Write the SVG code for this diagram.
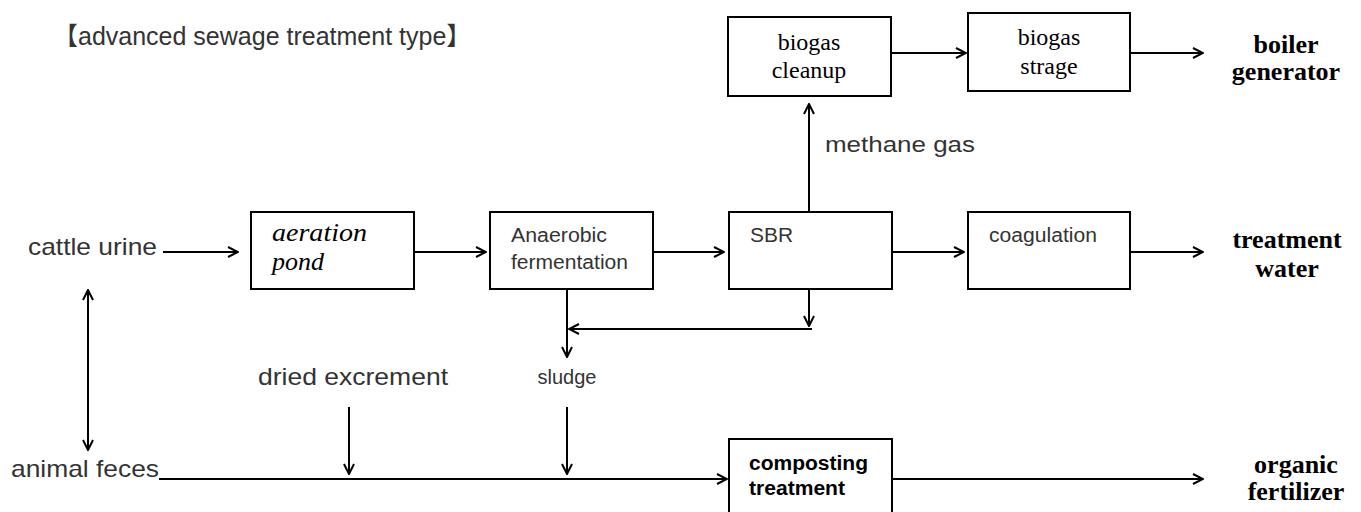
<svg xmlns="http://www.w3.org/2000/svg" width="1361" height="512" viewBox="0 0 1361 512">
  <style>
    .box { fill: #ffffff; stroke: #000000; stroke-width: 2; }
    .line { fill: none; stroke: #000000; stroke-width: 2; }
    .sans { font-family: "Liberation Sans", Arial, "Noto Sans CJK JP", sans-serif; fill: #333333; }
    .lbl { font-size: 24px; }
    .small { font-size: 20px; }
    .serif { font-family: "Liberation Serif", "Times New Roman", serif; fill: #000000; font-size: 24px; text-anchor: middle; }
    .ital { font-family: "Liberation Serif", "Times New Roman", serif; font-style: italic; fill: #000000; font-size: 26px; }
    .out { font-family: "Liberation Serif", "Times New Roman", serif; font-weight: bold; fill: #000000; font-size: 26px; text-anchor: middle; }
    .bold { font-family: "Liberation Sans", Arial, sans-serif; font-weight: bold; fill: #000000; font-size: 20px; }
  </style>
  <defs>
    <marker id="arrow" viewBox="0 0 12 12" refX="11" refY="6" markerWidth="12" markerHeight="12" markerUnits="userSpaceOnUse" orient="auto-start-reverse">
      <path d="M1,1 L11,6 L1,11" fill="none" stroke="#000000" stroke-width="2"/>
    </marker>
  </defs>

  <rect width="1361" height="512" fill="#ffffff"/>

  <text class="sans" x="53" y="45" font-size="25">【advanced sewage treatment type】</text>

  <!-- connectors -->
  <g id="connectors">
    <path class="line" d="M163,252 H238" marker-end="url(#arrow)"/>
    <path class="line" d="M414,252 H486" marker-end="url(#arrow)"/>
    <path class="line" d="M653,252 H724" marker-end="url(#arrow)"/>
    <path class="line" d="M892,252 H964" marker-end="url(#arrow)"/>
    <path class="line" d="M1130,252 H1203" marker-end="url(#arrow)"/>
    <path class="line" d="M809,212 V104" marker-end="url(#arrow)"/>
    <path class="line" d="M891,53 H966" marker-end="url(#arrow)"/>
    <path class="line" d="M1130,53 H1203" marker-end="url(#arrow)"/>
    <path class="line" d="M809,289 V326" marker-end="url(#arrow)"/>
    <path class="line" d="M812,329 H569" marker-end="url(#arrow)"/>
    <path class="line" d="M567,289 V357" marker-end="url(#arrow)"/>
    <path class="line" d="M567,407 V474" marker-end="url(#arrow)"/>
    <path class="line" d="M349,407 V474" marker-end="url(#arrow)"/>
    <path class="line" d="M88,290 V450" marker-start="url(#arrow)" marker-end="url(#arrow)"/>
    <path class="line" d="M159,479 H727" marker-end="url(#arrow)"/>
    <path class="line" d="M892,479 H1203" marker-end="url(#arrow)"/>
  </g>

  <!-- process boxes -->
  <g id="aeration-pond">
    <rect class="box" x="251" y="212" width="163" height="77"/>
    <text class="ital" x="272" y="241" textLength="95" lengthAdjust="spacingAndGlyphs">aeration</text>
    <text class="ital" x="272" y="270">pond</text>
  </g>
  <g id="anaerobic-fermentation">
    <rect class="box" x="490" y="212" width="163" height="77"/>
    <text class="sans small" x="511" y="242" textLength="96" lengthAdjust="spacingAndGlyphs">Anaerobic</text>
    <text class="sans small" x="511" y="269" textLength="117" lengthAdjust="spacingAndGlyphs">fermentation</text>
  </g>
  <g id="sbr">
    <rect class="box" x="729" y="212" width="163" height="77"/>
    <text class="sans small" x="750" y="242" textLength="43" lengthAdjust="spacingAndGlyphs">SBR</text>
  </g>
  <g id="coagulation">
    <rect class="box" x="968" y="212" width="162" height="77"/>
    <text class="sans small" x="989" y="242" textLength="108" lengthAdjust="spacingAndGlyphs">coagulation</text>
  </g>
  <g id="biogas-cleanup">
    <rect class="box" x="728" y="17" width="163" height="79"/>
    <text class="serif" x="809" y="50">biogas</text>
    <text class="serif" x="809" y="78">cleanup</text>
  </g>
  <g id="biogas-strage">
    <rect class="box" x="968" y="13" width="162" height="78"/>
    <text class="serif" x="1049" y="45">biogas</text>
    <text class="serif" x="1049" y="74">strage</text>
  </g>
  <g id="composting-treatment">
    <rect class="box" x="729" y="439" width="163" height="80"/>
    <text class="bold" x="749" y="470" textLength="119" lengthAdjust="spacingAndGlyphs">composting</text>
    <text class="bold" x="749" y="495" textLength="96" lengthAdjust="spacingAndGlyphs">treatment</text>
  </g>

  <!-- inputs and intermediate labels -->
  <g id="cattle-urine"><text class="sans lbl" x="28" y="255" textLength="129" lengthAdjust="spacingAndGlyphs">cattle urine</text></g>
  <g id="animal-feces"><text class="sans lbl" x="11" y="477" textLength="148" lengthAdjust="spacingAndGlyphs">animal feces</text></g>
  <g id="dried-excrement"><text class="sans lbl" x="258" y="385" textLength="190" lengthAdjust="spacingAndGlyphs">dried excrement</text></g>
  <g id="sludge"><text class="sans small" x="567" y="384" text-anchor="middle">sludge</text></g>
  <g id="methane-gas"><text class="sans" font-size="22" x="825" y="152" textLength="150" lengthAdjust="spacingAndGlyphs">methane gas</text></g>

  <!-- outputs -->
  <g id="boiler-generator">
    <text class="out" x="1286" y="53">boiler</text>
    <text class="out" x="1286" y="80">generator</text>
  </g>
  <g id="treatment-water">
    <text class="out" x="1287" y="248">treatment</text>
    <text class="out" x="1287" y="277">water</text>
  </g>
  <g id="organic-fertilizer">
    <text class="out" x="1296" y="473">organic</text>
    <text class="out" x="1296" y="500">fertilizer</text>
  </g>
</svg>
